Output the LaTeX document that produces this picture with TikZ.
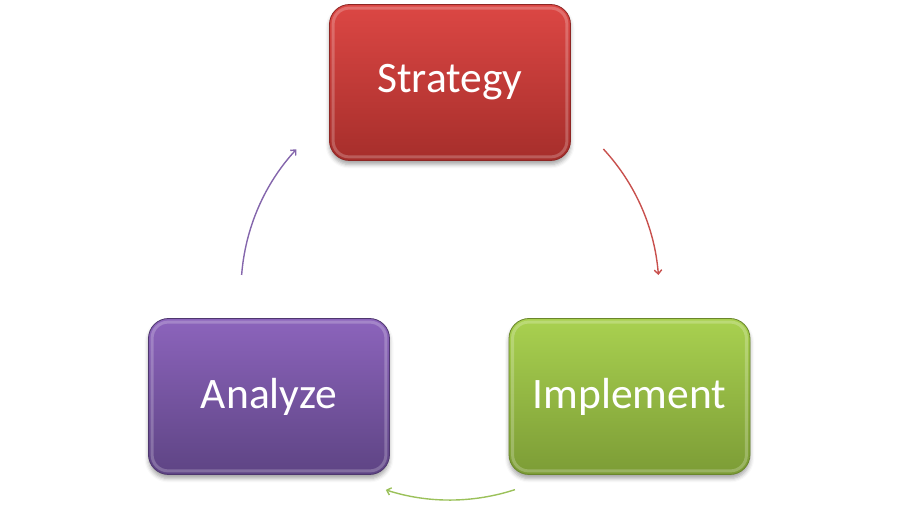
\documentclass[tikz,border=0pt]{standalone}
\usepackage{fontspec}
\setmainfont{Carlito}
\usetikzlibrary{arrows.meta,shadows.blur}
\definecolor{redT}{HTML}{DC4744}
\definecolor{redB}{HTML}{A62E2B}
\definecolor{redL}{HTML}{8E2624}
\definecolor{redA}{HTML}{C8504D}
\definecolor{grnT}{HTML}{A9D150}
\definecolor{grnB}{HTML}{7C9C36}
\definecolor{grnL}{HTML}{6A862C}
\definecolor{grnA}{HTML}{9BC15A}
\definecolor{purT}{HTML}{8C64BC}
\definecolor{purB}{HTML}{5E4484}
\definecolor{purL}{HTML}{4E376E}
\definecolor{purA}{HTML}{8466AC}
\begin{document}
\begin{tikzpicture}[x=1pt,y=1pt,
  stagebox/.style={rectangle, rounded corners=20pt, minimum width=241pt, minimum height=156pt,
    inner sep=0pt, text=white, font=\fontsize{43.5}{50}\selectfont, line width=0.8pt,
    blur shadow={shadow xshift=0pt, shadow yshift=-4pt, shadow blur radius=4pt, shadow opacity=35}},
  bevel/.style={white, opacity=0.22, line width=3pt, rounded corners=16pt},
  cyclearrow/.style={line width=1.4pt, -{Straight Barb[length=4pt,width=7.5pt]}}
]
\useasboundingbox (0,0) rectangle (900,530);

\node[stagebox, draw=redL, top color=redT, bottom color=redB] (s) at (450,447.5) {Strategy};
\node[stagebox, draw=grnL, top color=grnT, bottom color=grnB] (i) at (629.5,133.5) {Implement};
\node[stagebox, draw=purL, top color=purT, bottom color=purB] (a) at (269,133.5) {Analyze};

\foreach \n in {s,i,a}{
  \draw[bevel] ([shift={(4pt,-4pt)}]\n.north west) rectangle ([shift={(-4pt,4pt)}]\n.south east);
}

\coordinate (cc) at (450,239);
\path (cc) ++(42.8:209) coordinate (r1);
\path (cc) ++(-71.9:209) coordinate (g1);
\path (cc) ++(175.6:209) coordinate (p1);

\draw[cyclearrow, draw=redA] (r1) arc[start angle=42.8, end angle=4.4, radius=209pt];
\draw[cyclearrow, draw=grnA] (g1) arc[start angle=-71.9, end angle=-107.9, radius=209pt];
\draw[cyclearrow, draw=purA] (p1) arc[start angle=175.6, end angle=137.3, radius=209pt];
\end{tikzpicture}
\end{document}
